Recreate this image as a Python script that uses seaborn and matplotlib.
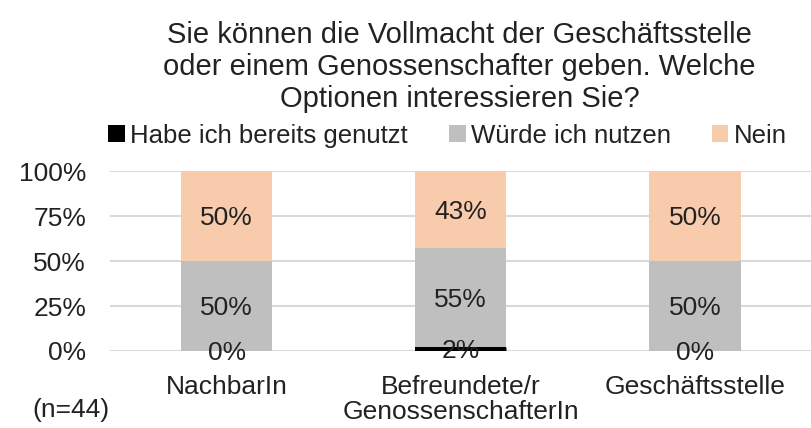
import numpy as np
import pandas as pd
import matplotlib.pyplot as plt
import seaborn as sns
from matplotlib.patches import Patch

categories = ["NachbarIn", "Befreundete/r\nGenossenschafterIn", "Geschäftsstelle"]
series = ["Habe ich bereits genutzt", "Würde ich nutzen", "Nein"]
habe = [0, 2, 0]
wuerde = [50, 55, 50]
nein = [50, 43, 50]
yticks = [0, 25, 50, 75, 100]

colors = ["#000000", "#bfbfbf", "#f8cbad"]
txt = "#222222"

sns.set_theme(style="white")
plt.rcParams["font.family"] = ["Liberation Sans", "DejaVu Sans"]

fig, ax = plt.subplots(figsize=(8.12, 4.28), dpi=100)
fig.subplots_adjust(left=0.135, right=1.0, top=0.6, bottom=0.18)

df = pd.DataFrame({"cat": categories, "habe": habe, "wuerde": wuerde, "nein": nein})
df["c1"] = df["habe"]
df["c2"] = df["habe"] + df["wuerde"]
df["c3"] = df["c2"] + df["nein"]

# stacked: draw the tallest first, then cover with the lower parts
for col, color in zip(["c3", "c2", "c1"], colors[::-1]):
    sns.barplot(data=df, x="cat", y=col, color=color, width=0.39,
                saturation=1, linewidth=0, ax=ax, zorder=3)

# thin black line for small "genutzt" segments
for i, v in enumerate(habe):
    if v > 0:
        ax.hlines(v / 2, i - 0.195, i + 0.195, color="black", lw=2.5, zorder=4)

for i in range(len(categories)):
    mids = [habe[i] / 2, habe[i] + wuerde[i] / 2, habe[i] + wuerde[i] + nein[i] / 2]
    for m, v in zip(mids, [habe[i], wuerde[i], nein[i]]):
        ax.text(i, m - 1.2, f"{v}%", ha="center", va="center", fontsize=19,
                color=txt, zorder=5)

ax.set_ylim(0, 100)
ax.set_xlim(-0.5, 2.5)
ax.set_yticks(yticks)
ax.set_yticklabels([f"{t}%" for t in yticks], fontsize=19, color=txt)
ax.tick_params(axis="x", labelsize=19, labelcolor=txt, pad=11)
ax.tick_params(axis="y", pad=11)
for lbl in ax.get_xticklabels():
    lbl.set_linespacing(1.1)
ax.set_xlabel("")
ax.set_ylabel("")
ax.yaxis.grid(True, color="#d9d9d9", lw=1.5, zorder=0)
ax.set_axisbelow(True)
sns.despine(ax=ax, left=True, bottom=True, top=True, right=True)

fig.text(0.566, 0.95, "Sie können die Vollmacht der Geschäftsstelle\n"
         "oder einem Genossenschafter geben. Welche\n"
         "Optionen interessieren Sie?", fontsize=21, color=txt,
         ha="center", va="top", linespacing=1.17)

handles = [Patch(facecolor=c, edgecolor="none") for c in colors]
fig.legend(handles, series, loc="center", bbox_to_anchor=(0.551, 0.683), ncol=3,
           frameon=False, fontsize=18.5, handlelength=0.65, handleheight=0.65,
           handletextpad=0.2, columnspacing=1.6, labelcolor=txt)

fig.text(0.04, 0.025, "(n=44)", fontsize=19, color=txt)

fig.savefig("out.png", dpi=100)
